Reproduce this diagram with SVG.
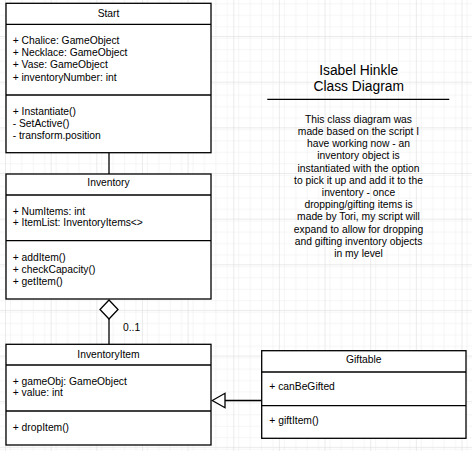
<svg xmlns="http://www.w3.org/2000/svg" width="472" height="451" viewBox="0 0 472 451">
<defs>
<pattern id="minor" x="5" y="-9.65" width="11.41" height="11.41" patternUnits="userSpaceOnUse">
<path d="M0 0H11.41M0 0V11.41" fill="none" stroke="#ebebeb" stroke-width="1"/>
</pattern>
<pattern id="major" x="5" y="-9.65" width="45.65" height="45.65" patternUnits="userSpaceOnUse">
<rect width="45.65" height="45.65" fill="url(#minor)"/>
<path d="M0 0H45.65M0 0V45.65" fill="none" stroke="#d8d8d8" stroke-width="1"/>
</pattern>
</defs>
<style>
.box{fill:#fff;stroke:#000;stroke-width:1.3}
.sep{stroke:#000;stroke-width:1.3;fill:none}
.t{font-family:"Liberation Sans",Arial,sans-serif;font-size:10.3px;fill:#000}
.c{text-anchor:middle}
.edge{stroke:#000;stroke-width:1.3;fill:none}
</style>
<rect width="472" height="451" fill="#fff"/>
<rect width="472" height="451" fill="url(#major)"/>

<g id="connectors">
<line class="edge" x1="109" y1="152.7" x2="109" y2="174"/>
<line class="edge" x1="109" y1="319" x2="109" y2="344.3"/>
<polygon class="edge" fill="#fff" points="109,300 118,309.5 109,319 100,309.5" style="fill:#fff"/>
<text class="t" x="123" y="331">0..1</text>
<line class="edge" x1="225" y1="400.5" x2="261.7" y2="400.5"/>
<polygon class="edge" points="212.3,400.5 225,393.3 225,407.7" style="fill:#fff"/>
</g>

<g id="Start">
<rect class="box" x="6" y="3.3" width="205" height="149.4"/>
<line class="sep" x1="6" y1="24.3" x2="211" y2="24.3"/>
<line class="sep" x1="6" y1="95" x2="211" y2="95"/>
<text class="t c" x="108.5" y="17">Start</text>
<text class="t" x="12.7" y="43.7">+ Chalice: GameObject</text>
<text class="t" x="12.7" y="56">+ Necklace: GameObject</text>
<text class="t" x="12.7" y="68.3">+ Vase: GameObject</text>
<text class="t" x="12.7" y="80.6">+ inventoryNumber: int</text>
<text class="t" x="12.7" y="114.7">+ Instantiate()</text>
<text class="t" x="12.7" y="127">- SetActive()</text>
<text class="t" x="12.7" y="139.3">- transform.position</text>
</g>

<g id="Inventory">
<rect class="box" x="6" y="174" width="205" height="125"/>
<line class="sep" x1="6" y1="195" x2="211" y2="195"/>
<line class="sep" x1="6" y1="240.7" x2="211" y2="240.7"/>
<text class="t c" x="108.5" y="186.4">Inventory</text>
<text class="t" x="12.7" y="214.7">+ NumItems: int</text>
<text class="t" x="12.7" y="226.4">+ ItemList: InventoryItems&lt;&gt;</text>
<text class="t" x="12.7" y="261">+ addItem()</text>
<text class="t" x="12.7" y="273">+ checkCapacity()</text>
<text class="t" x="12.7" y="285.4">+ getItem()</text>
</g>

<g id="InventoryItem">
<rect class="box" x="6" y="344.3" width="205" height="100.7"/>
<line class="sep" x1="6" y1="365" x2="211" y2="365"/>
<line class="sep" x1="6" y1="411" x2="211" y2="411"/>
<text class="t c" x="108.5" y="358">InventoryItem</text>
<text class="t" x="12.7" y="384.7">+ gameObj: GameObject</text>
<text class="t" x="12.7" y="396.4">+ value: int</text>
<text class="t" x="12.7" y="431">+ dropItem()</text>
</g>

<g id="Giftable">
<rect class="box" x="261.7" y="350.7" width="204.3" height="87.6"/>
<line class="sep" x1="261.7" y1="372" x2="466" y2="372"/>
<line class="sep" x1="261.7" y1="405.7" x2="466" y2="405.7"/>
<text class="t c" x="363.8" y="363">Giftable</text>
<text class="t" x="269.3" y="390.4">+ canBeGifted</text>
<text class="t" x="269.3" y="424.4">+ giftItem()</text>
</g>

<g id="Title">
<text class="t c" x="358.7" y="74.8" style="font-size:13.8px">Isabel Hinkle</text>
<text class="t c" x="358.7" y="91.3" style="font-size:13.8px">Class Diagram</text>
<line x1="267.3" y1="99.3" x2="449.3" y2="99.3" stroke="#000" stroke-width="1.3"/>
</g>

<g id="Description">
<text class="t c" x="358.5" y="122.7">This class diagram was</text>
<text class="t c" x="358.5" y="134.9">made based on the script I</text>
<text class="t c" x="358.5" y="147.1">have working now - an</text>
<text class="t c" x="358.5" y="159.3">inventory object is</text>
<text class="t c" x="358.5" y="171.5">instantiated with the option</text>
<text class="t c" x="358.5" y="183.7">to pick it up and add it to the</text>
<text class="t c" x="358.5" y="195.9">inventory - once</text>
<text class="t c" x="358.5" y="208.1">dropping/gifting items is</text>
<text class="t c" x="358.5" y="220.3">made by Tori, my script will</text>
<text class="t c" x="358.5" y="232.5">expand to allow for dropping</text>
<text class="t c" x="358.5" y="244.7">and gifting inventory objects</text>
<text class="t c" x="358.5" y="256.9">in my level</text>
</g>
</svg>
